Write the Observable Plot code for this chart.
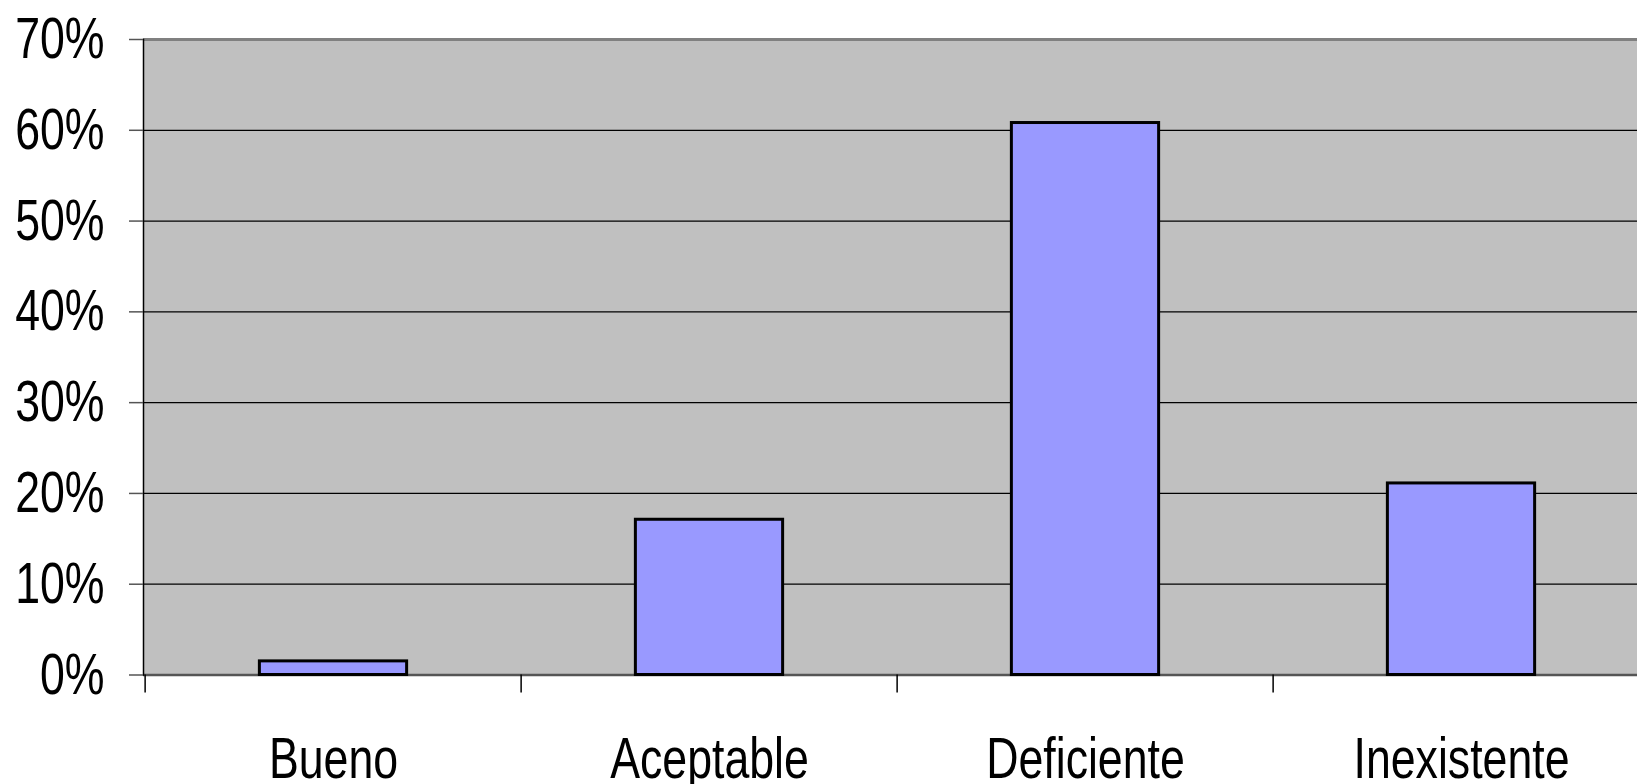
<!DOCTYPE html>
<html>
<head>
<meta charset="utf-8">
<script src="https://cdn.jsdelivr.net/npm/d3@7"></script>
<script src="https://cdn.jsdelivr.net/npm/@observablehq/plot@0.6"></script>
<style>
  html, body { margin: 0; padding: 0; background: #fff; overflow: hidden; }
  #chart svg { max-width: none !important; display: block; }
</style>
</head>
<body>
<div id="chart"></div>
<script>
// Categories and their share (percent)
const categories = ["Bueno", "Aceptable", "Deficiente", "Inexistente"];
const values = [1.5, 17.1, 60.8, 21.1];
const yTicks = [0, 10, 20, 30, 40, 50, 60, 70];

const W = 1650, H = 784;
const ML = 143, MT = 39, MB = 109.5;
const step = (W - ML) / categories.length;
const barWidth = 148;
const inset = (step - barWidth) / 2;

const data = categories.map((c, i) => ({category: c, value: values[i]}));

const chart = Plot.plot({
  width: W,
  height: H,
  marginLeft: ML,
  marginRight: 0,
  marginTop: MT,
  marginBottom: MB,
  style: {
    fontFamily: "'Liberation Sans', Arial, sans-serif",
    fontSize: "58px",
    color: "black",
    background: "white",
    maxWidth: "none"
  },
  x: {type: "band", domain: categories, padding: 0, label: null},
  y: {domain: [0, 70], label: null},
  marks: [
    Plot.frame({fill: "#c0c0c0", stroke: null}),
    Plot.ruleY(yTicks.slice(1, -1), {stroke: "#000", strokeWidth: 1.2}),
    Plot.ruleY([70], {stroke: "#808080", strokeWidth: 3}),
    Plot.ruleY([0], {stroke: "#555", strokeWidth: 2.5}),
    Plot.barY(data, {
      x: "category", y: "value",
      fill: "#9999ff", stroke: "#000", strokeWidth: 3,
      insetLeft: inset, insetRight: inset
    }),
    Plot.frame({anchor: "left", stroke: "#000", strokeWidth: 1.5}),
    Plot.axisY({ticks: yTicks, tickFormat: d => d + "%", tickSize: 14, tickPadding: 25,
                stroke: "#555", strokeWidth: 1.5, fill: "black", label: null}),
    // category boundary ticks
    Plot.axisX({fill: "none", tickSize: 18, stroke: "#000", strokeWidth: 1.5, dx: -step / 2, label: null}),
    // category names
    Plot.axisX({tickSize: 0, tickPadding: 61.5, fill: "black", label: null})
  ]
});

// Condensed lettering for the axis labels (horizontal squeeze only)
for (const t of chart.querySelectorAll("text")) {
  const xa = t.getAttribute("x");
  let x = 0;
  if (xa != null && !isNaN(+xa)) { x = +xa; t.removeAttribute("x"); }
  const tr = t.getAttribute("transform") || "";
  t.setAttribute("transform", `${tr} translate(${x},0) scale(0.77,1)`);
}

document.getElementById("chart").appendChild(chart);
</script>
</body>
</html>
